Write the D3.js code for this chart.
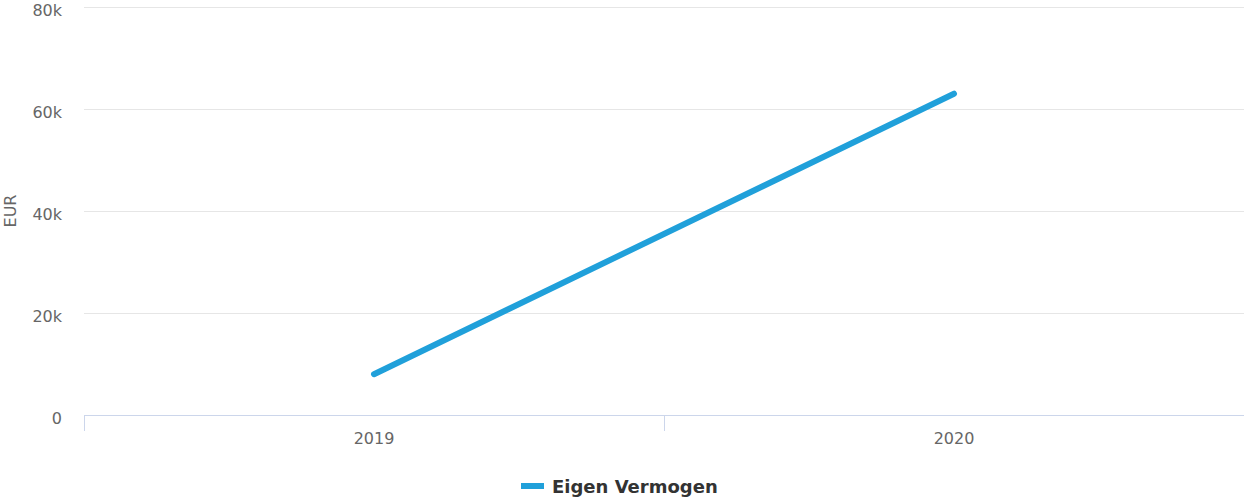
<!DOCTYPE html>
<html>
<head>
<meta charset="utf-8">
<script src="https://cdn.jsdelivr.net/npm/d3@7"></script>
<style>
  body { margin: 0; background: #fff; }
  svg { display: block; font-family: "DejaVu Sans", sans-serif; }
</style>
</head>
<body>
<div id="chart"></div>
<script>
// chart data
const years = ["2019", "2020"];
const eigenVermogen = [8000, 63000];
const yTicks = [0, 20000, 40000, 60000, 80000];
const seriesName = "Eigen Vermogen";

const width = 1244, height = 500;
const margin = { top: 7, right: 0, bottom: 85, left: 84 };

const svg = d3.select("#chart").append("svg")
    .attr("width", width)
    .attr("height", height);

const x = d3.scaleBand()
    .domain(years)
    .range([margin.left, width - margin.right]);

const y = d3.scaleLinear()
    .domain([0, 80000])
    .range([height - margin.bottom, margin.top]);

// grid lines
svg.append("g")
    .selectAll("line")
    .data(yTicks.filter(d => d > 0))
    .join("line")
    .attr("x1", margin.left)
    .attr("x2", width - margin.right)
    .attr("y1", d => y(d) + 0.5)
    .attr("y2", d => y(d) + 0.5)
    .attr("stroke", "#e6e6e6")
    .attr("stroke-width", 1);

// y tick labels
svg.append("g")
    .selectAll("text")
    .data(yTicks)
    .join("text")
    .attr("x", 62)
    .attr("y", d => y(d) + 8.5)
    .attr("text-anchor", "end")
    .attr("fill", "#666666")
    .style("font-size", "16px")
    .text(d => d === 0 ? "0" : d / 1000 + "k");

// y axis title
svg.append("text")
    .attr("transform", `translate(16,${(y(0) + y(80000)) / 2}) rotate(-90)`)
    .attr("text-anchor", "middle")
    .attr("fill", "#666666")
    .style("font-size", "16px")
    .text("EUR");

// x axis
const xAxis = svg.append("g");
xAxis.append("line")
    .attr("x1", margin.left)
    .attr("x2", width - margin.right)
    .attr("y1", y(0) + 0.5)
    .attr("y2", y(0) + 0.5)
    .attr("stroke", "#ccd6eb");

// ticks on category boundaries (the one at the right edge is clipped off)
xAxis.selectAll(".tick")
    .data(years)
    .join("line")
    .attr("class", "tick")
    .attr("x1", d => x(d) + 0.5)
    .attr("x2", d => x(d) + 0.5)
    .attr("y1", y(0))
    .attr("y2", y(0) + 16)
    .attr("stroke", "#ccd6eb");

xAxis.selectAll("text")
    .data(years)
    .join("text")
    .attr("x", d => x(d) + x.bandwidth() / 2)
    .attr("y", y(0) + 29)
    .attr("text-anchor", "middle")
    .attr("fill", "#666666")
    .style("font-size", "16px")
    .text(d => d);

// the line
const line = d3.line()
    .x((d, i) => x(years[i]) + x.bandwidth() / 2)
    .y(d => y(d));

svg.append("path")
    .datum(eigenVermogen)
    .attr("d", line)
    .attr("fill", "none")
    .attr("stroke", "#20a0da")
    .attr("stroke-width", 6)
    .attr("stroke-linecap", "round")
    .attr("stroke-linejoin", "round");

// legend
const legend = svg.append("g").attr("transform", "translate(521,486)");
legend.append("line")
    .attr("x1", 0)
    .attr("x2", 23)
    .attr("y1", 0)
    .attr("y2", 0)
    .attr("stroke", "#20a0da")
    .attr("stroke-width", 6);
legend.append("text")
    .attr("x", 31)
    .attr("y", 7)
    .attr("fill", "#333333")
    .style("font-size", "18px")
    .style("font-weight", "bold")
    .text(seriesName);
</script>
</body>
</html>
